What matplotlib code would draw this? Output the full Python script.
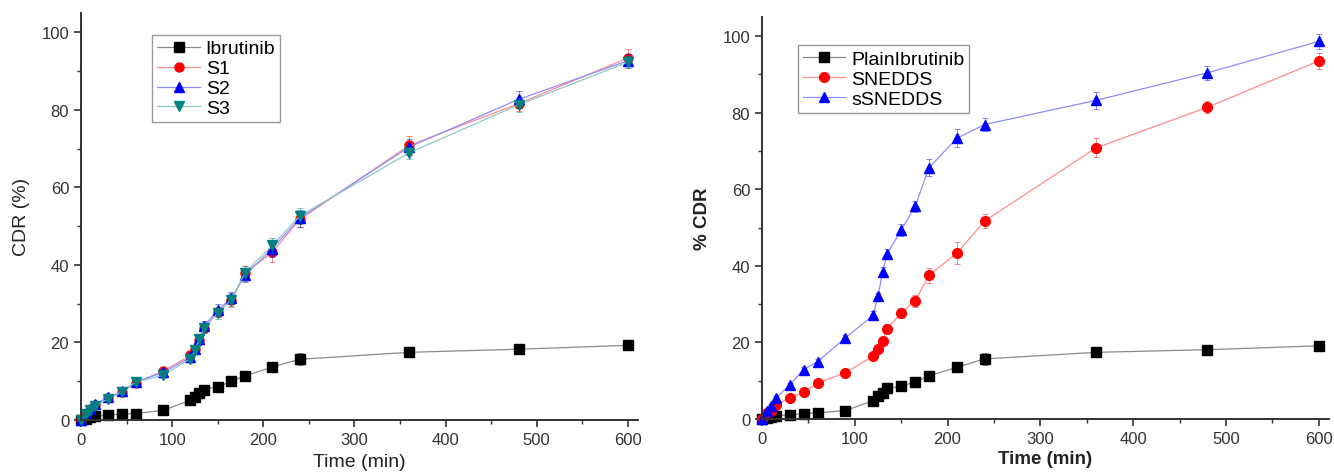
import numpy as np
import matplotlib.pyplot as plt
from matplotlib.ticker import MultipleLocator

plt.rcParams['font.family'] = ['Liberation Sans', 'DejaVu Sans']

time = [0, 5, 10, 15, 30, 45, 60, 90, 120, 125, 130, 135, 150, 165, 180, 210, 240, 360, 480, 600]

# left panel: plain drug vs three formulations
ibrutinib = [0, 0.3, 0.6, 0.9, 1.2, 1.5, 1.6, 2.4, 5.0, 5.8, 6.8, 7.8, 8.5, 9.9, 11.3, 13.6, 15.6, 17.4, 18.2, 19.2]
ibrutinib_err = [0, 0, 0, 0.2, 0.2, 0.2, 0.3, 0.4, 0.5, 0.5, 0.6, 0.6, 0.7, 0.8, 0.9, 1.2, 1.5, 1.0, 1.0, 0.8]
s1 = [0, 1.5, 2.6, 3.8, 5.6, 7.1, 9.6, 12.5, 16.6, 18.3, 20.5, 23.6, 27.8, 30.8, 37.8, 43.3, 51.7, 70.8, 81.6, 93.4]
s1_err = [0, 0.2, 0.3, 0.4, 0.5, 0.6, 0.7, 0.8, 1.0, 1.0, 1.1, 1.2, 1.4, 1.6, 2.0, 2.5, 2.0, 2.5, 1.8, 2.2]
s2 = [0, 1.6, 2.8, 4.0, 5.8, 7.3, 9.8, 12.2, 16.1, 18.2, 20.8, 24.2, 28.3, 31.4, 37.3, 44.2, 52.0, 70.4, 82.7, 92.7]
s2_err = [0, 0.2, 0.3, 0.4, 0.5, 0.6, 0.7, 0.8, 1.0, 1.0, 1.1, 1.2, 1.6, 1.6, 1.8, 2.3, 2.2, 2.0, 2.2, 1.8]
s3 = [0, 1.4, 2.5, 3.6, 5.4, 7.2, 9.7, 11.5, 15.7, 18.0, 20.9, 23.7, 27.5, 31.0, 38.0, 45.0, 52.6, 68.9, 81.3, 92.3]
s3_err = [0, 0.2, 0.3, 0.4, 0.5, 0.6, 0.7, 0.8, 1.0, 1.0, 1.1, 1.2, 1.4, 1.6, 1.8, 2.0, 2.0, 1.5, 1.8, 1.5]

# right panel: plain drug vs liquid and solid SNEDDS
plain = [0, 0.3, 0.6, 0.9, 1.1, 1.4, 1.6, 2.2, 4.8, 5.9, 6.9, 8.0, 8.5, 9.7, 11.3, 13.5, 15.7, 17.4, 18.1, 19.1]
plain_err = [0, 0, 0, 0.2, 0.2, 0.2, 0.3, 0.4, 0.5, 0.5, 0.6, 0.6, 0.8, 0.8, 0.9, 1.2, 1.5, 0.9, 1.0, 0.7]
snedds = [0, 1.5, 2.1, 3.7, 5.5, 7.0, 9.4, 12.1, 16.4, 18.3, 20.4, 23.6, 27.7, 30.8, 37.5, 43.3, 51.7, 70.8, 81.4, 93.5]
snedds_err = [0, 0.2, 0.3, 0.4, 0.5, 0.6, 0.7, 0.8, 0.9, 1.0, 1.0, 1.1, 1.2, 1.5, 2.0, 2.8, 1.8, 2.5, 1.6, 2.2]
ssnedds = [0, 2.2, 3.5, 5.5, 8.9, 12.9, 15.0, 21.2, 27.1, 32.0, 38.4, 43.2, 49.3, 55.5, 65.6, 73.3, 76.9, 83.2, 90.4, 98.6]
ssnedds_err = [0, 0.2, 0.3, 0.4, 0.5, 0.6, 0.7, 0.8, 1.0, 1.0, 1.2, 1.2, 1.5, 1.5, 2.2, 2.3, 1.8, 2.2, 1.8, 2.0]

left_series = [
    ('Ibrutinib', ibrutinib, ibrutinib_err, 's', 'black', '#8a8a8a'),
    ('S1', s1, s1_err, 'o', 'red', '#ff8c8c'),
    ('S2', s2, s2_err, '^', 'blue', '#8c8cff'),
    ('S3', s3, s3_err, 'v', '#008080', '#8cc8c8'),
]
right_series = [
    ('PlainIbrutinib', plain, plain_err, 's', 'black', '#8a8a8a'),
    ('SNEDDS', snedds, snedds_err, 'o', 'red', '#ff8c8c'),
    ('sSNEDDS', ssnedds, ssnedds_err, '^', 'blue', '#8c8cff'),
]

fig = plt.figure(figsize=(13.34, 4.77), dpi=100)
ax1 = fig.add_axes([0.0607, 0.118, 0.4175, 0.8526])
ax2 = fig.add_axes([0.5712, 0.1195, 0.425, 0.843])


def draw(ax, series, ms):
    for name, y, err, mk, mcol, lcol in series:
        ax.errorbar(time, y, yerr=err, fmt='none', ecolor=mcol, elinewidth=0.6,
                    capsize=2.5, capthick=0.6, alpha=0.55, clip_on=False)
        ax.plot(time, y, '-', color=lcol, lw=0.9, marker=mk, ms=ms,
                mfc=mcol, mec=mcol, label=name, clip_on=False)


def style(ax):
    ax.set_xlim(0, 611)
    ax.set_ylim(0, 105)
    ax.xaxis.set_major_locator(MultipleLocator(100))
    ax.xaxis.set_minor_locator(MultipleLocator(50))
    ax.yaxis.set_major_locator(MultipleLocator(20))
    ax.yaxis.set_minor_locator(MultipleLocator(10))
    for s in ['top', 'right']:
        ax.spines[s].set_visible(False)
    for s in ['left', 'bottom']:
        ax.spines[s].set_linewidth(1.4)
        ax.spines[s].set_color('#333333')
    ax.tick_params(which='major', direction='out', length=5, width=1.2,
                   color='#333333', labelsize=12, labelcolor='#333333')
    ax.tick_params(which='minor', direction='out', length=3, width=1.0, color='#333333')


def add_legend(ax, anchor):
    leg = ax.legend(loc='upper left', bbox_to_anchor=anchor, borderaxespad=0,
                    fontsize=14, handlelength=2.2, handletextpad=0.3,
                    borderpad=0.25, labelspacing=0.12, fancybox=False, framealpha=1)
    leg.get_frame().set_edgecolor('#999999')


draw(ax1, left_series, 6.5)
style(ax1)
ax1.set_xlabel('Time (min)', fontsize=14, color='#222222', labelpad=5)
ax1.set_ylabel('CDR (%)', fontsize=14, color='#222222', labelpad=8)
add_legend(ax1, (0.128, 0.946))

draw(ax2, right_series, 7)
style(ax2)
ax2.set_xlabel('Time (min)', fontsize=13.5, fontweight='bold', color='#222222', labelpad=3)
ax2.set_ylabel('% CDR', fontsize=13.5, fontweight='bold', color='#222222', labelpad=8)
add_legend(ax2, (0.063, 0.929))

fig.savefig('out.png', dpi=100)
